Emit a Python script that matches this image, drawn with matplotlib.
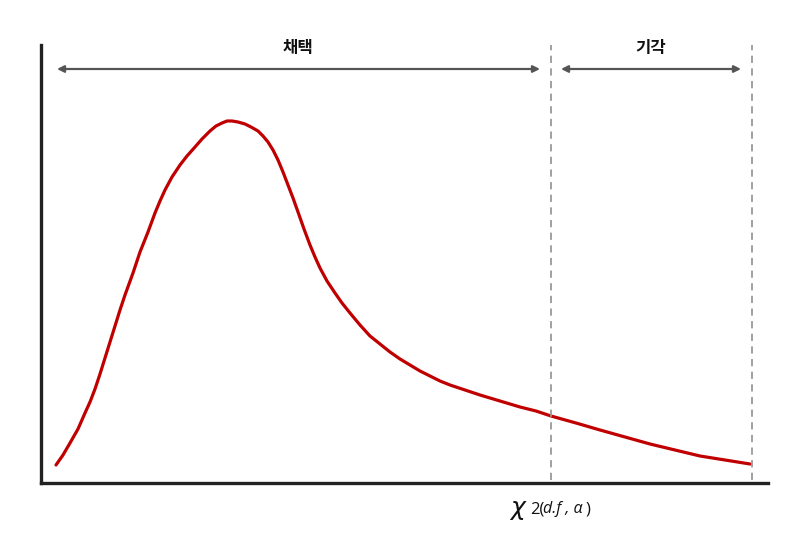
import matplotlib
matplotlib.use("Agg")
import matplotlib.pyplot as plt
import numpy as np

plt.rcParams['font.family'] = ['Noto Sans CJK KR', 'DejaVu Sans']

# curve points (x, height above the baseline)
curve_x = [15, 22, 29, 37, 44, 49, 54, 59, 64, 69, 74, 79, 84, 92, 99, 107, 114, 119, 124,
           131, 139, 146, 154, 161, 169, 175, 181, 186, 191, 197, 204, 210, 217, 222, 227,
           232, 237, 242, 247, 252, 257, 263, 269, 274, 279, 286, 294, 301, 309, 319, 329,
           339, 349, 359, 369, 379, 389, 399, 409, 424, 439, 459, 479, 495, 510, 535, 559,
           584, 609, 634, 659, 684, 709]
curve_y = [18, 28, 40, 54, 70, 81, 94, 109, 125, 141, 157, 173, 188, 210, 231, 251, 270,
           282, 293, 306, 318, 327, 336, 344, 352, 357, 360, 362, 362, 361, 359, 356, 352,
           347, 341, 333, 323, 311, 298, 285, 271, 254, 238, 226, 215, 202, 190, 180, 170,
           158, 147, 139, 131, 124, 118, 112, 107, 102, 98, 93, 88, 82, 76, 72, 67, 60, 53,
           46, 39, 33, 27, 23, 19]

cut_x = [510, 711]          # dashed boundaries
region_labels = ['채택', '기각']
region_spans = [(16, 499), (520, 700)]

fig = plt.figure(figsize=(7.95, 5.39), dpi=100)
ax = fig.add_axes([41 / 795, 56 / 539, 727 / 795, 438 / 539])
ax.set_xlim(0, 727)
ax.set_ylim(0, 438)

ax.plot(curve_x, curve_y, color='#c00000', lw=2.3, solid_capstyle='round',
        solid_joinstyle='round')

for cx in cut_x:
    ax.plot([cx, cx], [3, 438], color='#999999', lw=1.3, ls=(0, (4, 3)))

for lab, (a, b) in zip(region_labels, region_spans):
    ax.annotate('', xy=(a, 414), xytext=(b, 414),
                arrowprops=dict(arrowstyle='<|-|>', color='#555555', lw=1.6,
                                mutation_scale=10, shrinkA=0, shrinkB=0))
    ax.text((a + b) / 2, 435, lab, ha='center', va='center', fontsize=12,
            fontweight='bold', color='#111111')

ax.text(468, -26, r'$\chi$', ha='left', va='center', fontsize=18, color='#111111')
ax.text(489, -26, '2(', ha='left', va='center', fontsize=12, family=['Open Sans'],
        color='#111111')
ax.text(502, -26, 'd.f , α', ha='left', va='center', fontsize=11.5, style='italic',
        family=['Open Sans', 'DejaVu Sans'], color='#111111')
ax.text(545, -26, ')', ha='left', va='center', fontsize=12, family=['Open Sans'],
        color='#111111')

for s in ['top', 'right']:
    ax.spines[s].set_visible(False)
for s in ['left', 'bottom']:
    ax.spines[s].set_linewidth(2.4)
    ax.spines[s].set_color('#222222')
ax.set_xticks([])
ax.set_yticks([])

fig.savefig('out.png', dpi=100)
